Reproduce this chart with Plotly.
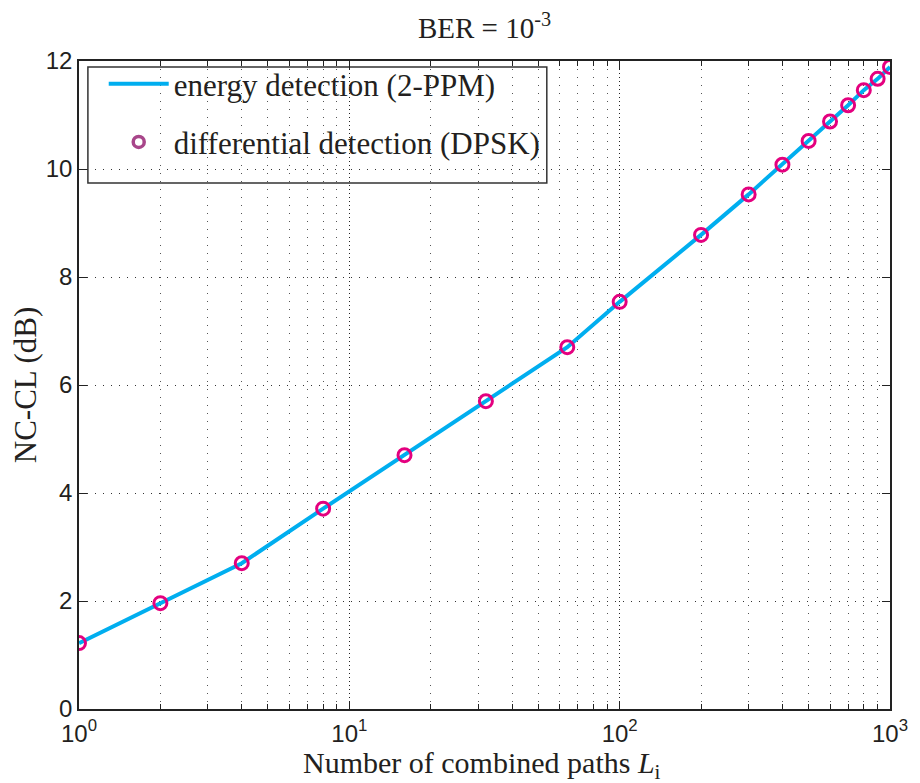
import plotly.graph_objects as go

# number of combined paths L_i
paths = [1, 2, 4, 8, 16, 32, 64, 100, 200, 300, 400, 500, 600, 700, 800, 900, 1000]
# NC-CL (dB)
nccl_energy = [1.22, 1.96, 2.70, 3.71, 4.70, 5.70, 6.70, 7.54, 8.78, 9.53,
               10.08, 10.52, 10.88, 11.18, 11.46, 11.67, 11.89]
nccl_dpsk = [1.22, 1.96, 2.70, 3.71, 4.70, 5.70, 6.70, 7.54, 8.78, 9.53,
             10.08, 10.52, 10.88, 11.18, 11.46, 11.67, 11.89]

x_tickvals = [1, 10, 100, 1000]
x_ticktext = ['10<sup>0</sup>', '10<sup>1</sup>', '10<sup>2</sup>', '10<sup>3</sup>']
x_minor = [m * d for d in (1, 10, 100) for m in range(2, 10)]
y_tickvals = [0, 2, 4, 6, 8, 10, 12]

serif = 'Liberation Serif, Times New Roman, serif'
sans = 'Liberation Sans, Arial, sans-serif'
ink = '#231f20'
line_blue = '#00AEEF'
magenta = '#E4007F'

# plot area in window pixels: x 79..899, y 61..709
def px_x(p):
    return (p - 79) / 820

def px_y(p):
    return (709 - p) / 648

fig = go.Figure()
fig.add_trace(go.Scatter(
    x=paths, y=nccl_energy, mode='lines',
    name='energy detection (2-PPM)',
    line=dict(color=line_blue, width=4),
    legendgroup='a',
))
fig.add_trace(go.Scatter(
    x=paths, y=nccl_dpsk, mode='markers',
    name='differential detection (DPSK)',
    marker=dict(symbol='circle-open', size=13, color=magenta,
                line=dict(color=magenta, width=3)),
    showlegend=False,
))
# legend entry only (purple marker as in the reference legend)
fig.add_trace(go.Scatter(
    x=[None], y=[None], mode='markers',
    name='differential detection (DPSK)',
    marker=dict(symbol='circle-open', size=11, color='#A8468A',
                line=dict(color='#A8468A', width=3.5)),
    legendgroup='b',
))

fig.update_xaxes(
    type='log', range=[0, 3],
    tickvals=x_tickvals, ticktext=x_ticktext,
    ticks='inside', ticklen=8, tickwidth=1, tickcolor='#222',
    showline=True, linecolor='#222', linewidth=1.5, mirror='ticks',
    showgrid=True, gridcolor='#222', gridwidth=1, griddash='1px,3px',
    minor=dict(tickvals=x_minor, ticks='inside', ticklen=5, tickcolor='#222',
               showgrid=True, gridcolor='#555', gridwidth=1, griddash='1px,7px'),
    tickfont=dict(family=sans, size=24, color=ink),
    ticklabelstandoff=2,
    zeroline=False,
)
fig.update_yaxes(
    range=[0, 12], tickvals=y_tickvals,
    ticks='inside', ticklen=8, tickwidth=1, tickcolor='#222',
    showline=True, linecolor='#222', linewidth=1.5, mirror='ticks',
    showgrid=True, gridcolor='#333', gridwidth=1, griddash='1px,7px',
    tickfont=dict(family=sans, size=24, color=ink),
    ticklabelstandoff=0,
    title=dict(text='NC-CL (dB)', font=dict(family=serif, size=31, color=ink),
               standoff=0),
    zeroline=False,
)

fig.add_annotation(
    text='Number of combined paths <i>L</i><sub>i</sub>',
    xref='paper', yref='paper', x=px_x(486), y=px_y(765),
    xanchor='center', yanchor='middle', showarrow=False,
    font=dict(family=serif, size=30, color=ink),
)

# legend frame
fig.add_shape(
    type='rect', xref='paper', yref='paper',
    x0=px_x(88), x1=px_x(552), y0=px_y(183), y1=px_y(67),
    fillcolor='white', line=dict(color='#333', width=1.5), layer='between',
)

fig.update_layout(
    width=920, height=783,
    margin=dict(l=79, r=21, t=61, b=74),
    plot_bgcolor='white', paper_bgcolor='white',
    title=dict(text='BER = 10<sup>-3</sup>', x=0.5, xref='paper',
               y=1 - 28 / 783, yref='container', yanchor='middle',
               font=dict(family=serif, size=29, color=ink)),
    legend=dict(x=px_x(104), y=px_y(57), xanchor='left', yanchor='top',
                bgcolor='rgba(0,0,0,0)', borderwidth=0,
                font=dict(family=serif, size=31, color=ink),
                tracegroupgap=15, itemwidth=60),
)

# drop the default page margin so the figure fills the window exactly
fig.write_html('out.html', config={'displayModeBar': False},
               post_script="document.body.style.margin='0';"
                           "document.body.style.overflow='hidden';")
